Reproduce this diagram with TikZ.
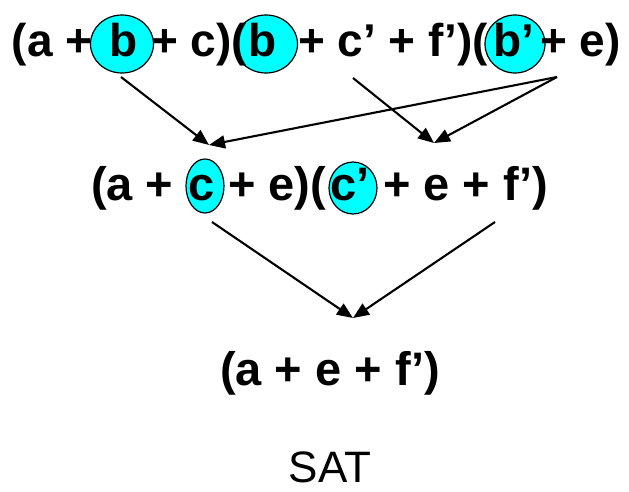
\documentclass[tikz,border=0pt]{standalone}
\usepackage{fontspec}
\setmainfont{Liberation Sans}
\usetikzlibrary{arrows.meta,shapes.geometric}
\definecolor{litcyan}{RGB}{0,255,255}
\tikzset{
  clause/.style={anchor=base west, inner sep=0pt, outer sep=0pt, font=\bfseries\fontsize{46}{50}\selectfont},
  clausemid/.style={clause, font=\bfseries\fontsize{47}{52}\selectfont},
  litmark/.style={ellipse, draw=black, line width=1.2pt, fill=litcyan, inner sep=0pt},
  line/.style={-{Triangle[length=16pt,width=13pt]}, draw=black, line width=2.1pt},
  caption/.style={anchor=base, inner sep=0pt, font=\fontsize{44}{50}\selectfont}
}
\begin{document}
\begin{tikzpicture}[x=1pt,y=-1pt]
  \useasboundingbox (0,0) rectangle (629,492);

  % highlighted literals
  \node[litmark, minimum width=63pt, minimum height=58pt] (markB1) at (122,44) {};
  \node[litmark, minimum width=63pt, minimum height=58pt] (markB2) at (266,44) {};
  \node[litmark, minimum width=60pt, minimum height=58pt] (markB3) at (515,44) {};
  \node[litmark, minimum width=38pt, minimum height=54pt] (markC1) at (205,186) {};
  \node[litmark, minimum width=48pt, minimum height=52pt] (markC2) at (353,188) {};

  % first row
  \node[clause] (r1a) at (12,57) {(a +};
  \node[clause] (litB1) at (109,57) {b};
  \node[clause] (r1b) at (151,57) {+ c)(};
  \node[clause] (litB2) at (248,57) {b};
  \node[clause] (r1c) at (298,57) {+ c’ + f’)(};
  \node[clause] (litB3) at (493,57) {b’};
  \node[clause] (r1d) at (540,57) {+ e)};

  % resolvents
  \node[clausemid] (r2a) at (91,200) {(a +};
  \node[clausemid] (litC1) at (188,200) {c};
  \node[clausemid] (r2b) at (228,200) {+ e)(};
  \node[clausemid] (litC2) at (330,200) {c’};
  \node[clausemid] (r2c) at (383,200) {+ e + f’)};
  \node[clausemid] (r3) at (220,385) {(a + e + f’)};

  \node[caption] (sat) at (330,482) {SAT};

  \coordinate (b1out) at (121,77);
  \coordinate (c1out) at (353,78);
  \coordinate (eout) at (557,77);
  \coordinate (c1in) at (209,145);
  \coordinate (c2in) at (434,143);
  \coordinate (cout) at (212,222);
  \coordinate (fout) at (495,222);
  \coordinate (resin) at (353,318);

  \draw[line] (b1out) -- (c1in);
  \draw[line] (c1out) -- (c2in);
  \draw[line] (eout) -- (c1in);
  \draw[line] (eout) -- (c2in);
  \draw[line] (cout) -- (resin);
  \draw[line] (fout) -- (resin);
\end{tikzpicture}
\end{document}
